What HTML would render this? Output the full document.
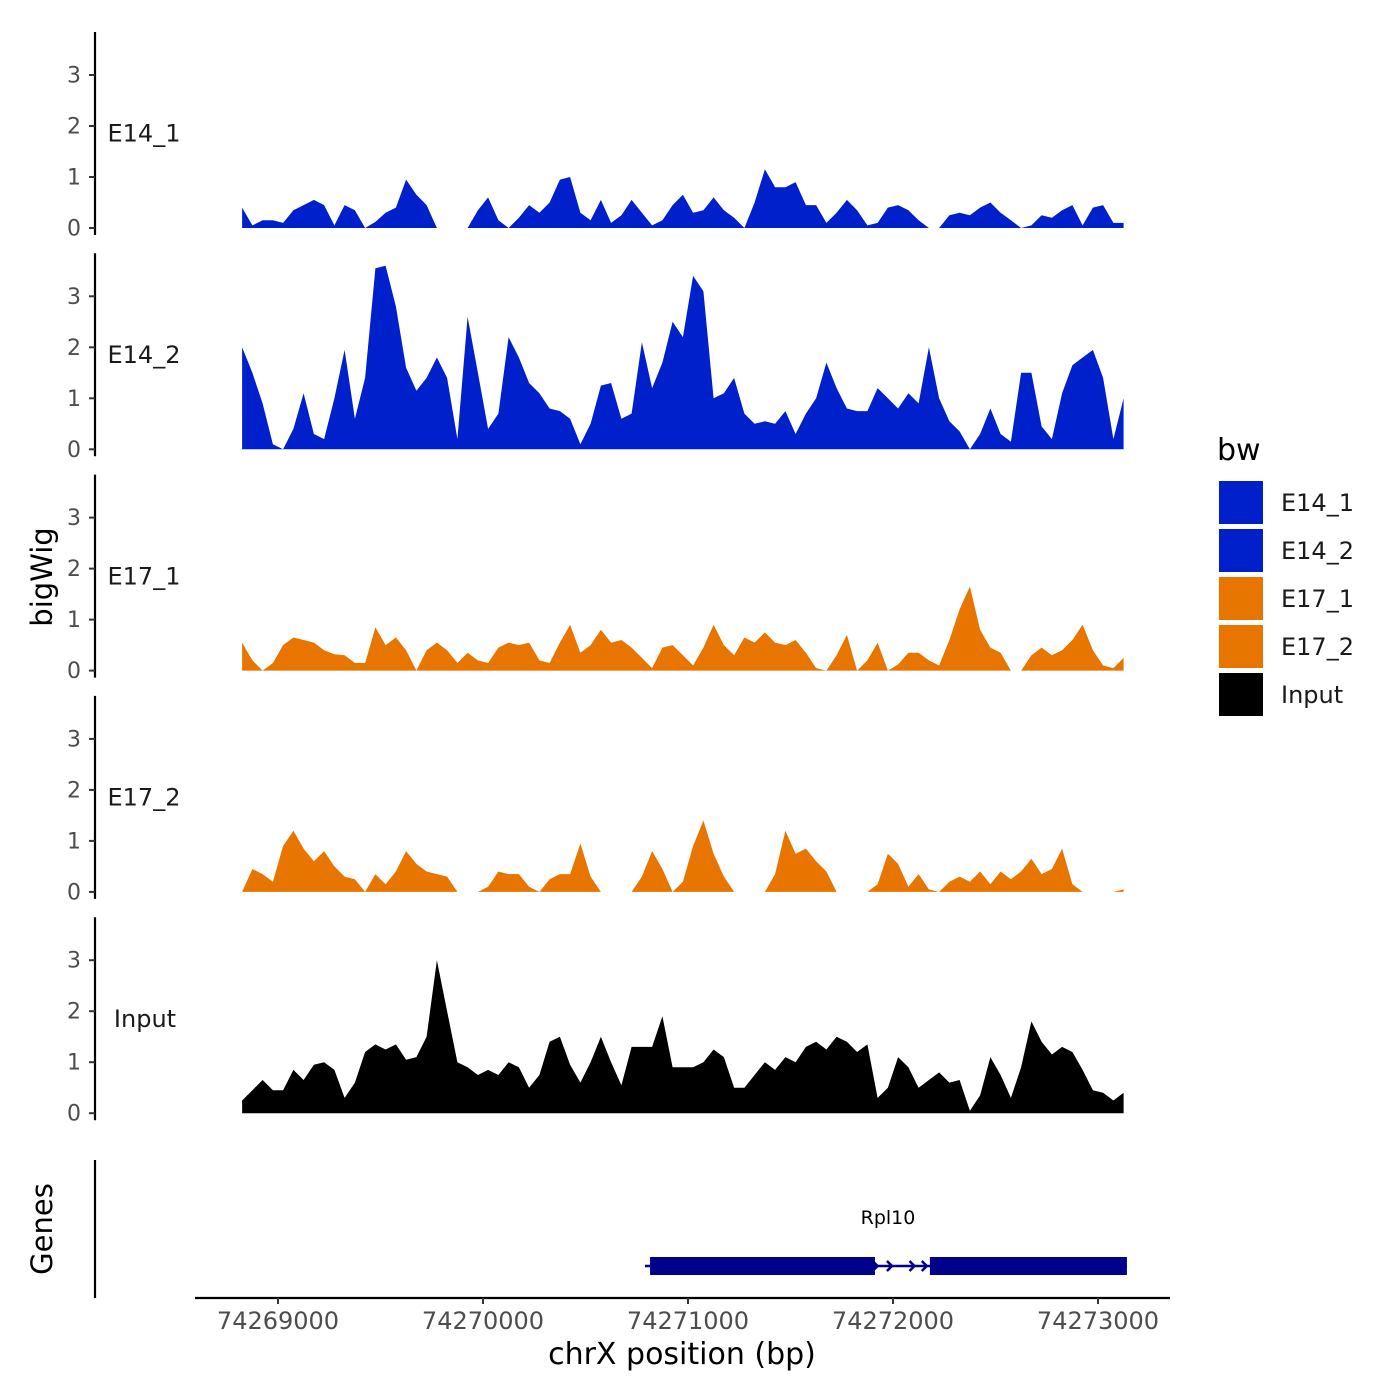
<!DOCTYPE html>
<html><head><meta charset="utf-8"><style>
html,body{margin:0;padding:0;background:#fff;}
svg{display:block;font-family:"DejaVu Sans","Liberation Sans",sans-serif;}
</style></head><body>
<svg id="chart" width="1400" height="1400" viewBox="0 0 1400 1400">
<rect width="1400" height="1400" fill="#fff"/>
<g id="tracks"></g>
<g id="genes"></g>
<g id="xaxis"></g>
<text x="52" y="577" font-size="29" text-anchor="middle" transform="rotate(-90 52 577)">bigWig</text>
<text x="52" y="1229" font-size="29" text-anchor="middle" transform="rotate(-90 52 1229)">Genes</text>
<text x="682" y="1364" font-size="30" text-anchor="middle">chrX position (bp)</text>
<g id="legend"></g>
</svg>
<script>
const trackNames = ["E14_1","E14_2","E17_1","E17_2","Input"];
const trackColors = ["#0020CC","#0020CC","#E87500","#E87500","#000000"];
const gridStart = 74268825;
const gridStep = 50;
const e14_1 = [0.4,0.05,0.15,0.15,0.1,0.35,0.45,0.55,0.45,0.05,0.45,0.35,0,0.12,0.3,0.4,0.95,0.65,0.45,0,0,0,0,0.35,0.6,0.15,0,0.2,0.45,0.3,0.5,0.95,1.0,0.3,0.15,0.55,0.1,0.25,0.55,0.3,0.05,0.15,0.45,0.65,0.3,0.35,0.6,0.35,0.2,0,0.5,1.15,0.8,0.8,0.9,0.45,0.45,0.1,0.3,0.55,0.35,0.05,0.1,0.4,0.45,0.35,0.15,0,0,0.25,0.3,0.25,0.4,0.5,0.3,0.15,0,0.05,0.25,0.2,0.35,0.45,0.05,0.4,0.45,0.1,0.1];
const e14_2 = [2.0,1.5,0.9,0.1,0,0.4,1.1,0.3,0.2,1.0,1.95,0.6,1.4,3.55,3.6,2.8,1.6,1.15,1.4,1.8,1.4,0.2,2.6,1.5,0.4,0.7,2.2,1.8,1.3,1.1,0.8,0.75,0.6,0.1,0.5,1.25,1.3,0.6,0.7,2.1,1.2,1.7,2.5,2.2,3.4,3.1,1.0,1.1,1.4,0.7,0.5,0.55,0.5,0.75,0.3,0.7,1.0,1.7,1.2,0.8,0.75,0.75,1.2,1.0,0.8,1.1,0.9,2.0,1.0,0.55,0.35,0,0.3,0.8,0.3,0.15,1.5,1.5,0.45,0.2,1.1,1.65,1.8,1.95,1.4,0.2,1.0];
const e17_1 = [0.55,0.2,0,0.15,0.5,0.65,0.6,0.55,0.4,0.32,0.3,0.15,0.15,0.85,0.5,0.65,0.4,0,0.4,0.55,0.4,0.15,0.35,0.2,0.15,0.45,0.55,0.5,0.55,0.2,0.15,0.55,0.9,0.35,0.5,0.8,0.55,0.6,0.45,0.25,0.05,0.45,0.5,0.3,0.1,0.45,0.9,0.5,0.3,0.65,0.55,0.75,0.55,0.5,0.6,0.35,0.05,0,0.3,0.7,0,0.2,0.55,0,0.12,0.35,0.35,0.2,0.1,0.6,1.2,1.65,0.8,0.45,0.35,0,0,0.3,0.45,0.3,0.4,0.6,0.9,0.4,0.1,0.05,0.25];
const e17_2 = [0,0.45,0.35,0.2,0.9,1.2,0.85,0.6,0.8,0.5,0.3,0.25,0,0.35,0.15,0.4,0.8,0.55,0.4,0.35,0.3,0,0,0,0.1,0.4,0.35,0.35,0.1,0,0.25,0.35,0.35,0.95,0.3,0,0,0,0,0.3,0.8,0.45,0,0.2,0.9,1.4,0.75,0.3,0,0,0,0,0.35,1.2,0.75,0.85,0.6,0.4,0,0,0,0,0.15,0.75,0.55,0.1,0.35,0.05,0,0.2,0.3,0.2,0.4,0.15,0.4,0.25,0.4,0.65,0.35,0.45,0.85,0.15,0,0,0,0,0.05];
const input = [0.25,0.45,0.65,0.45,0.45,0.85,0.65,0.95,1.0,0.85,0.3,0.6,1.2,1.35,1.25,1.35,1.05,1.1,1.5,3.0,2.0,1.0,0.9,0.75,0.85,0.75,1.0,0.9,0.5,0.75,1.4,1.5,0.95,0.6,1.0,1.5,1.0,0.55,1.3,1.3,1.3,1.9,0.9,0.9,0.9,1.0,1.25,1.1,0.5,0.5,0.75,1.0,0.85,1.1,1.0,1.3,1.4,1.25,1.5,1.4,1.2,1.35,0.3,0.5,1.1,0.9,0.5,0.65,0.8,0.6,0.65,0.05,0.35,1.1,0.75,0.3,0.9,1.8,1.4,1.15,1.3,1.2,0.85,0.45,0.4,0.25,0.4];
const series = [e14_1,e14_2,e17_1,e17_2,input];
const yTicks = [0,1,2,3];
const xTicks = [74269000,74270000,74271000,74272000,74273000];
const geneName = "Rpl10";
const geneStart = 74270790, geneEnd = 74273141;
const exons = [[74270815,74271912],[74272180,74273141]];
const legendLabels = ["E14_1","E14_2","E17_1","E17_2","Input"];
const legendColors = ["#0020CC","#0020CC","#E87500","#E87500","#000000"];

const NS="http://www.w3.org/2000/svg";
function mk(tag,attrs,parent){const e=document.createElementNS(NS,tag);for(const k in attrs)e.setAttribute(k,attrs[k]);parent.appendChild(e);return e;}
const xScale = bp => 278 + (bp-74269000)*0.205;
const panelTop = i => 32 + i*221.3;
const yScale = (i,v) => panelTop(i) + 196 - v*51;

const tracks=document.getElementById('tracks');
series.forEach((vals,i)=>{
  const g=mk('g',{},tracks);
  
  
  let d='M'+xScale(gridStart)+','+yScale(i,0);
  vals.forEach((v,j)=>{d+=' L'+xScale(gridStart+j*gridStep).toFixed(1)+','+yScale(i,v).toFixed(1);});
  d+=' L'+xScale(gridStart+(vals.length-1)*gridStep).toFixed(1)+','+yScale(i,0)+' Z';
  const p=mk('path',{d:d,fill:trackColors[i]},g);
  
  
  const ax=mk('line',{x1:95,x2:95,y1:panelTop(i),y2:panelTop(i)+203,stroke:'#000','stroke-width':2.2},g);
  
  
  yTicks.forEach(t=>{
    const y=yScale(i,t);
    const tk=mk('line',{x1:89,x2:95,y1:y,y2:y,stroke:'#333','stroke-width':2},g);
    
    
    const tl=mk('text',{x:81,y:y+7.5,'font-size':22,'text-anchor':'end',fill:'#4d4d4d'},g);
    tl.textContent=t;
    
    
  });
  const lab=mk('text',{x:i===4?145:144,y:yScale(i,1.85)+8,'font-size':24,'text-anchor':'middle',fill:'#1a1a1a'},g);
  lab.textContent=trackNames[i];
  
  
});

const genes=document.getElementById('genes');
const gax=mk('line',{x1:95,x2:95,y1:1160,y2:1298,stroke:'#000','stroke-width':2.2},genes);


const gl=mk('line',{x1:xScale(geneStart),x2:xScale(geneEnd),y1:1266,y2:1266,stroke:'#00008B','stroke-width':2.5},genes);


exons.forEach(ex=>{
  const r=mk('rect',{x:xScale(ex[0]),y:1257,width:xScale(ex[1])-xScale(ex[0]),height:18,fill:'#00008B'},genes);
  
  
});
[74271920,74271990,74272100,74272160].forEach(bp=>{
  const x=xScale(bp);
  const a=mk('path',{d:`M${x-4},1261 L${x+1},1266 L${x-4},1271`,stroke:'#00008B','stroke-width':2.5,fill:'none'},genes);
  
  
});
const gn=mk('text',{x:888,y:1224,'font-size':19,'text-anchor':'middle',fill:'#000'},genes);
gn.textContent=geneName;



const xa=document.getElementById('xaxis');
const xl=mk('line',{x1:195,x2:1170,y1:1298,y2:1298,stroke:'#000','stroke-width':2.2},xa);


xTicks.forEach(t=>{
  const x=xScale(t);
  const tk=mk('line',{x1:x,x2:x,y1:1298,y2:1304,stroke:'#333','stroke-width':2},xa);
  
  
  const tl=mk('text',{x:x,y:1329,'font-size':24,'text-anchor':'middle',fill:'#4d4d4d'},xa);
  tl.textContent=t;
  
  
});

const lg=document.getElementById('legend');
const lt=mk('text',{x:1217,y:460,'font-size':30,fill:'#000'},lg);
lt.textContent='bw';


legendLabels.forEach((l,i)=>{
  const y=481+i*48;
  const r=mk('rect',{x:1219,y:y,width:44,height:43,fill:legendColors[i]},lg);
  
  
  const t=mk('text',{x:1281,y:y+30,'font-size':24,fill:'#1a1a1a'},lg);
  t.textContent=l;
  
  
});
</script>
</body></html>
